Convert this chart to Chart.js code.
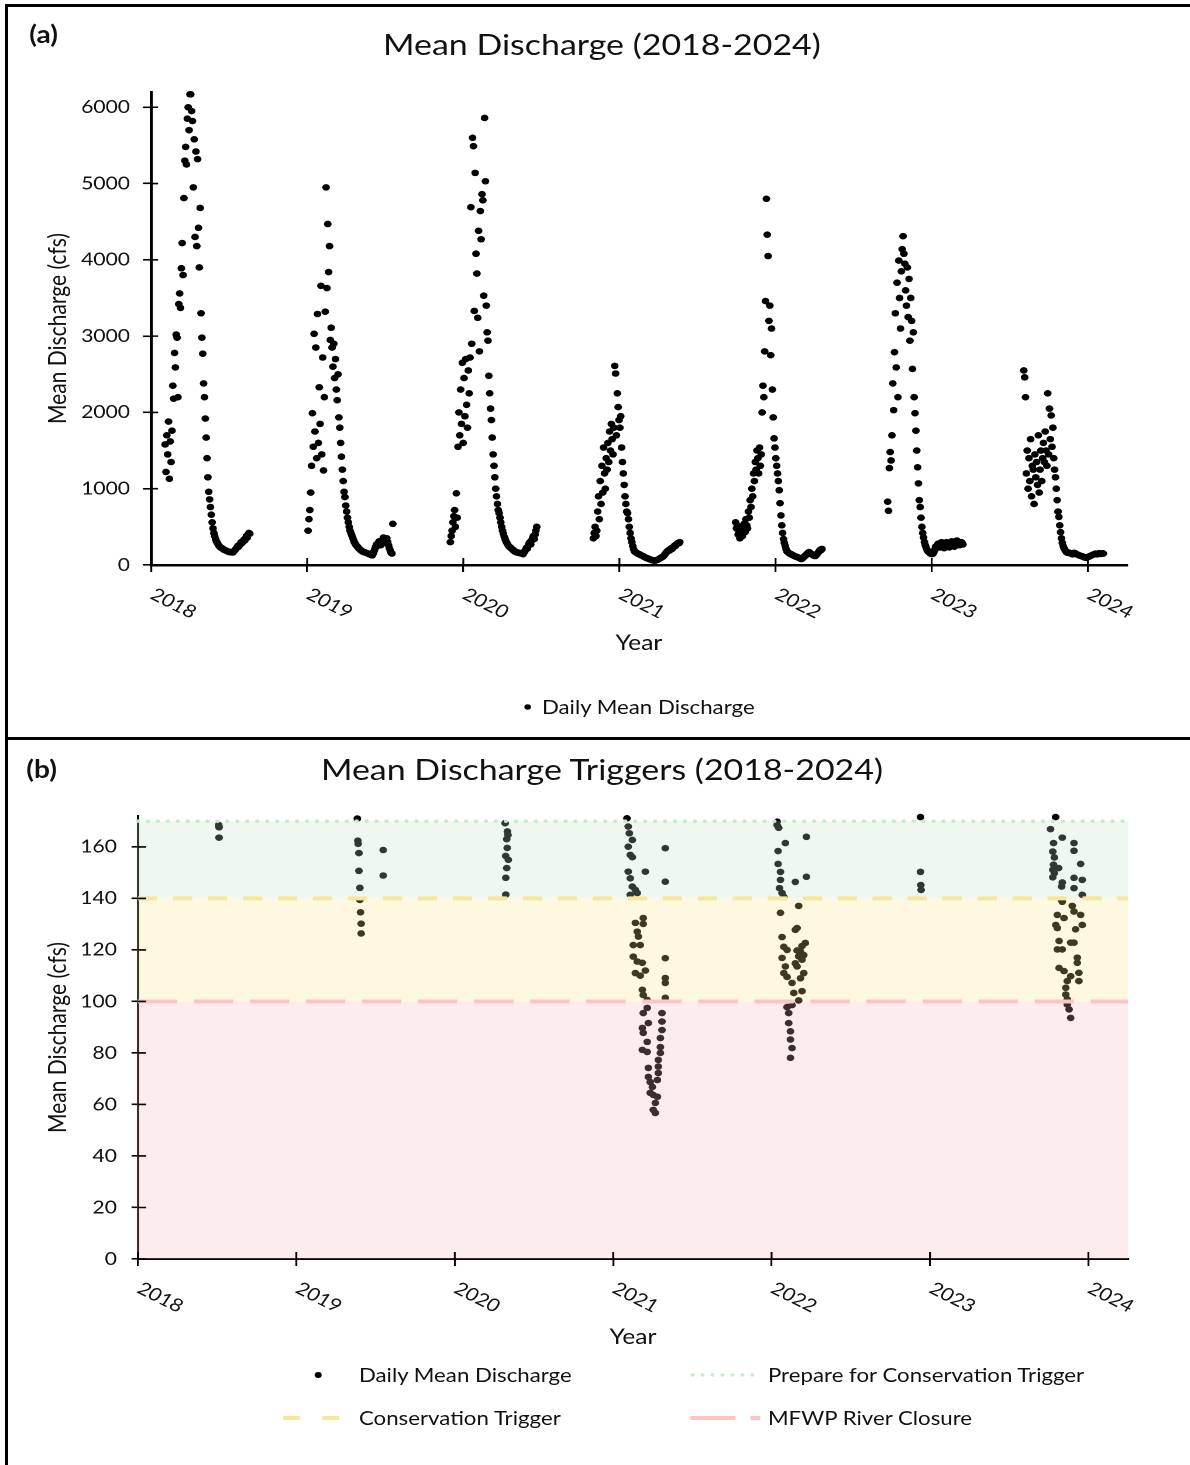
<!DOCTYPE html>
<html>
<head>
<meta charset="utf-8">
<title>Mean Discharge (2018-2024)</title>
<script src="https://cdn.jsdelivr.net/npm/chart.js@4.4.1/dist/chart.umd.min.js"></script>
<style>
  html, body { margin:0; padding:0; background:#fff; }
  #page { position:relative; width:1190px; height:1465px; overflow:hidden; background:#fff;
          font-family: Lato, 'Noto Sans', sans-serif; color:#111; }
  #stretch { position:absolute; left:0; top:0; width:1017px; height:1465px;
             transform:scaleX(1.17); transform-origin:0 0; }
  .rule { position:absolute; background:#000; }
  .ctitle { position:absolute; left:0; width:1029px; text-align:center; font-size:29px;
            line-height:36px; white-space:nowrap; }
  .plabel { position:absolute; font-weight:700; font-size:24px; line-height:28px; }
  canvas { position:absolute; left:0; }
  .legtext { position:absolute; font-size:19px; line-height:24px; white-space:nowrap; }
  .legsvg { position:absolute; overflow:visible; }
</style>
</head>
<body>
<div id="page">
  <div id="stretch">
    <div class="plabel" style="left:25px; top:20px;">(a)</div>
    <div class="ctitle" style="top:26px;">Mean Discharge (2018-2024)</div>
    <canvas id="chartA" width="1017" height="670" style="top:0px;"></canvas>
    <div class="plabel" style="left:22.5px; top:754.5px;">(b)</div>
    <div class="ctitle" style="top:751px;">Mean Discharge Triggers (2018-2024)</div>
    <canvas id="chartB" width="1017" height="610" style="top:740px;"></canvas>
    <div id="legends"></div>
  </div>
  <div class="rule" style="left:5px; top:4px; width:3px; height:1461px;"></div>
  <div class="rule" style="left:5px; top:4px; width:1185px; height:3px;"></div>
  <div class="rule" style="left:5px; top:737px; width:1185px; height:3px;"></div>
</div>
<script>
// ---------------- DATA ----------------
const yearTicks = [2018, 2019, 2020, 2021, 2022, 2023, 2024];
const dischargeTicks = [0, 1000, 2000, 3000, 4000, 5000, 6000];
const triggerTicks = [0, 20, 40, 60, 80, 100, 120, 140, 160];
const STEP_DAYS = 2;   // one reading every two days within each season
const seasonStart = [2018.090, 2019.006, 2019.917, 2020.833, 2021.744, 2022.718, 2023.590];

const q2018 = [1580,1220,1700,1450,1880,1130,1620,1350,1760,
  2350,2180,2780,2590,3020,2980,2200,
  3420,3560,3370,3890,4220,3800,
  4810,5300,5480,5250,5850,6000,5700,6170,6170,5950,
  5820,4950,5580,4300,5420,4180,5320,4420,3900,4680,3300,2980,2770,2380,2200,
  1920,1670,1400,
  1150,960,860,760,660,560,480,
  420,380,340,310,290,270,250,
  240,230,222,215,208,200,195,190,184,178,174,170,172,
  168,167,164,
  175,185,200,215,230,250,240,262,280,300,290,310,330,320,350,380,360,400,420,410];
const q2019 = [450,600,720,950,
  1300,1990,1550,3030,1750,2850,1400,3290,1600,2330,1850,3660,1450,2720,1240,2200,
  3320,4950,3630,4470,3840,4180,2950,3110,
  2850,2600,2900,2450,2700,2300,2160,2500,1935,
  1800,1600,1420,1250,1100,960,890,
  780,700,620,560,500,450,420,390,360,330,300,280,
  260,250,235,222,210,200,190,182,175,170,168,163,
  160,155,150,144,139,135,130,126,150,180,
  210,240,270,250,290,310,280,260,300,330,360,320,290,330,350,300,260,220,190,160,150,540];
const q2020 = [300,380,450,560,640,720,500,940,620,
  1550,2000,1700,2300,1850,2650,1600,2450,1950,2700,2100,1800,2550,2250,2720,
  4690,2900,5600,5490,3330,5140,4080,3820,3240,4380,2800,4640,4270,4860,4780,3530,5860,5030,3400,
  3050,2940,2480,2250,2050,1900,
  1670,1450,1300,1150,1000,900,800,720,680,
  620,560,500,450,410,370,340,310,290,270,250,240,230,220,210,
  200,190,180,172,169,165,164,160,157,155,152,148,
  142,160,180,200,225,215,250,280,300,270,320,350,380,340,400,450,500];
const q2021 = [350,420,500,380,450,
  700,900,600,1100,800,1300,950,1540,1200,1000,1400,1250,
  1600,1350,1750,1500,1850,1650,1450,1800,2610,2510,1700,
  2250,2070,1900,1800,1950,1540,
  1350,1200,1050,900,800,700,680,
  600,500,420,350,300,250,210,180,
  171,163,157,150,144,141,132,127,122,116,111,104,98,92,88,84,80,75,
  70,66,63,60,58,57,
  60,64,70,75,80,88,95,102,108,116,130,146,
  159,175,185,195,190,205,220,210,230,240,255,250,270,280,290,285,300];
const q2022 = [560,480,520,400,450,350,420,500,380,460,540,430,600,520,480,
  700,620,850,760,1000,900,1200,1100,1350,1250,1500,1400,1200,1540,
  1300,1450,2000,2350,2200,2800,
  3460,4800,4330,4050,3200,3400,2750,3100,
  2300,1935,1660,1540,1400,
  1300,1200,1100,980,810,
  650,520,420,340,290,250,210,180,
  170,160,152,146,141,135,128,122,117,112,108,104,99,94,88,82,78,85,96,108,118,128,140,150,162,
  170,160,150,140,130,125,120,118,125,140,155,170,185,200,195,210];
const q2023 = [830,710,1270,1480,1370,1700,
  2380,2030,2790,3300,2590,3700,2200,3990,3500,3100,3850,
  4140,4310,4080,3950,3600,3400,
  3900,3250,3750,2940,3500,3200,2570,3050,2200,1990,
  1760,1500,1280,1070,850,760,620,
  500,420,360,300,260,230,200,180,
  171,160,150,145,143,150,170,200,240,220,260,280,250,230,270,300,260,240,220,250,
  280,300,270,250,230,260,290,310,280,260,240,270,300,320,290,270,260,280,300,290,270];
const q2024 = [2550,2460,2200,
  1200,1500,1000,1400,1100,1650,900,1300,1250,800,1450,1150,1350,1050,1700,950,1250,1500,1100,1400,
  1600,1350,1750,1500,1300,2250,1450,2050,1650,1960,1550,1800,1400,1250,1150,
  1000,850,700,630,520,430,350,
  290,250,220,200,180,170,160,
  165,160,155,150,145,140,150,160,155,148,140,135,130,125,120,118,115,110,105,100,
  98,95,100,105,110,115,120,125,130,135,140,145,150,145,140,148,155,150,145,150,155,150];
const seasonValues = [q2018, q2019, q2020, q2021, q2022, q2023, q2024];

// low-flow readings shown in panel (b): [decimal year, cfs]
const low2018 = [[2018.510,168.5],[2018.512,167.6],[2018.512,163.6]];
const low2019 = [[2019.385,171.0],[2019.388,162.4],[2019.390,161.2],[2019.395,157.6],[2019.395,150.7],
  [2019.401,144.1],[2019.401,139.4],[2019.405,134.6],[2019.409,130.2],[2019.409,126.4],
  [2019.548,158.8],[2019.548,148.9]];
const low2020 = [[2020.318,169.2],[2020.332,166.0],[2020.336,164.6],[2020.328,163.0],[2020.331,159.6],
  [2020.321,156.5],[2020.338,155.0],[2020.328,151.8],[2020.322,148.0],[2020.322,141.5]];
const low2021 = [[2021.087,171.1],[2021.095,167.9],[2021.102,165.3],[2021.121,162.7],[2021.095,160.1],
  [2021.108,156.9],[2021.121,156.0],[2021.095,150.4],[2021.108,147.8],[2021.121,144.6],
  [2021.140,143.3],[2021.108,141.4],[2021.152,142.1],[2021.203,150.4],[2021.329,159.5],
  [2021.329,146.5],[2021.190,132.4],[2021.140,130.5],[2021.190,130.1],[2021.152,127.1],
  [2021.159,125.2],[2021.127,121.9],[2021.171,121.9],[2021.127,117.4],[2021.152,115.5],
  [2021.184,115.0],[2021.140,111.0],[2021.171,110.0],[2021.203,112.0],[2021.329,116.8],
  [2021.329,109.1],[2021.329,107.2],[2021.329,101.4],[2021.184,104.5],[2021.190,102.5],
  [2021.215,100.6],[2021.215,97.5],[2021.190,95.5],[2021.222,91.6],[2021.184,89.7],
  [2021.190,87.8],[2021.215,84.3],[2021.184,81.2],[2021.215,80.4],[2021.308,95.5],
  [2021.308,92.2],[2021.308,88.9],[2021.298,85.8],[2021.298,82.3],[2021.298,80.0],
  [2021.285,77.3],[2021.285,74.7],[2021.285,72.2],[2021.279,69.5],[2021.222,74.2],
  [2021.222,70.7],[2021.234,68.7],[2021.247,66.8],[2021.253,63.7],[2021.266,60.6],
  [2021.253,57.9],[2021.266,56.7],[2021.234,64.5],[2021.279,63.0]];
const low2022 = [[2022.035,169.8],[2022.035,168.5],[2022.045,167.4],[2022.087,161.5],[2022.220,163.9],
  [2022.220,148.4],[2022.041,158.4],[2022.041,153.4],[2022.056,150.3],[2022.056,147.2],
  [2022.150,146.4],[2022.050,144.0],[2022.066,142.1],[2022.077,140.6],[2022.171,137.1],
  [2022.056,134.4],[2022.161,128.5],[2022.150,127.8],[2022.066,125.0],[2022.077,121.2],
  [2022.213,122.7],[2022.182,119.4],[2022.171,117.5],[2022.192,116.2],[2022.161,113.6],
  [2022.203,111.0],[2022.182,109.0],[2022.066,116.9],[2022.087,113.6],[2022.077,111.0],
  [2022.098,109.5],[2022.129,107.2],[2022.140,103.3],[2022.171,100.4],[2022.129,98.6],
  [2022.098,97.8],[2022.108,95.5],[2022.108,91.6],[2022.119,88.4],[2022.119,85.2],
  [2022.129,81.9],[2022.119,78.1],[2022.192,121.5],[2022.203,118.0],[2022.161,119.8],
  [2022.150,114.8],[2022.192,104.0],[2022.098,120.0]];
const low2023 = [[2022.940,171.6],[2022.940,150.3],[2022.942,145.2],[2022.944,143.3]];
const low2024 = [[2023.793,171.6],[2023.761,166.9],[2023.835,163.6],[2023.780,161.5],[2023.909,161.5],
  [2023.909,158.5],[2023.775,158.2],[2023.785,155.9],[2023.951,153.4],[2023.780,153.1],
  [2023.812,151.8],[2023.775,151.1],[2023.785,149.8],[2023.775,148.2],[2023.835,146.2],
  [2023.831,144.6],[2023.909,148.0],[2023.961,147.2],[2023.909,144.0],[2023.961,141.4],
  [2023.831,139.4],[2023.835,138.7],[2023.898,137.1],[2023.909,134.9],[2023.951,133.6],
  [2023.961,129.7],[2023.919,128.0],[2023.804,133.6],[2023.846,132.4],[2023.794,129.7],
  [2023.804,128.5],[2023.888,122.8],[2023.909,122.8],[2023.815,123.5],[2023.804,120.2],
  [2023.835,120.2],[2023.930,117.0],[2023.930,115.0],[2023.940,111.1],[2023.940,107.9],
  [2023.815,113.0],[2023.846,111.8],[2023.888,109.8],[2023.867,107.9],[2023.857,105.3],
  [2023.857,102.7],[2023.867,100.8],[2023.867,98.8],[2023.878,96.9],[2023.888,93.6]];
const lowSeasons = [low2018, low2019, low2020, low2021, low2022, low2023, low2024];

const thresholdValues = [170, 140, 100];
const thresholdNames = ['Prepare for Conservation Trigger', 'Conservation Trigger', 'MFWP River Closure'];
const seriesName = 'Daily Mean Discharge';

// ---------------- STYLES ----------------
const X_MIN = 2018, X_MAX = 2024.25;
const thresholdStyles = [
  { color: '#c4ecca', dash: [0, 8.5], cap: 'round', width: 3.6, band: 'rgba(187,227,187,0.25)' },
  { color: '#f7e79c', dash: [16.5, 13.4], cap: 'butt', width: 4, band: 'rgba(255,227,135,0.25)' },
  { color: '#ffc3c7', dash: [33.6, 14.3], cap: 'butt', width: 4, band: 'rgba(247,179,187,0.25)' }
];
Chart.defaults.font.family = "Lato, 'Noto Sans', sans-serif";
Chart.defaults.color = '#111';

// ---------------- PLUGINS ----------------
const crossTicks = {
  id: 'crossTicks',
  afterDraw(chart, args, o) {
    const { ctx, chartArea: a, scales: { x, y } } = chart;
    ctx.save();
    ctx.strokeStyle = '#000';
    ctx.lineWidth = o.width;
    ctx.beginPath();
    y.ticks.forEach(t => { const p = y.getPixelForValue(t.value); ctx.moveTo(a.left, p); ctx.lineTo(a.left + o.yIn, p); });
    x.ticks.forEach(t => { const p = x.getPixelForValue(t.value); ctx.moveTo(p, a.bottom); ctx.lineTo(p, a.bottom - o.xIn); });
    ctx.stroke();
    ctx.restore();
  }
};
const slantedYears = {
  id: 'slantedYears',
  afterDraw(chart, args, o) {
    const { ctx, chartArea: a, scales: { x } } = chart;
    ctx.save();
    ctx.font = o.font;
    ctx.fillStyle = o.color;
    ctx.textAlign = 'left';
    ctx.textBaseline = 'middle';
    x.ticks.forEach(t => {
      const p = x.getPixelForValue(t.value);
      ctx.save();
      ctx.translate(p + o.dx, a.bottom + o.dy);
      ctx.rotate(o.angle * Math.PI / 180);
      ctx.fillText(String(t.value), 0, 0);
      ctx.restore();
    });
    ctx.restore();
  }
};
const triggerBands = {
  id: 'triggerBands',
  afterDatasetDraw(chart, args, o) {
    if (args.index !== 0) return;
    const { ctx, chartArea: a, scales: { y } } = chart;
    ctx.save();
    o.bands.forEach(b => {
      const t = y.getPixelForValue(b.from), btm = y.getPixelForValue(b.to);
      ctx.fillStyle = b.color;
      ctx.fillRect(a.left - 1, t, a.right - a.left + 1, btm - t);
    });
    ctx.restore();
  }
};

function axisCommon(tickLen, borderW) {
  return {
    grid: { drawOnChartArea: false, drawTicks: true, tickLength: tickLen, color: '#000', tickColor: '#000', tickWidth: 1.6, lineWidth: 1.6 },
    border: { display: true, color: '#000', width: borderW }
  };
}
const fixTicks = list => scale => { scale.ticks = list.map(v => ({ value: v })); };

// ---------------- CHART A ----------------
const pointsA = [];
seasonValues.forEach((vals, s) => vals.forEach((v, i) => pointsA.push({ x: seasonStart[s] + i * STEP_DAYS / 365, y: v })));

new Chart(document.getElementById('chartA'), {
  type: 'scatter',
  data: { datasets: [{ label: seriesName, data: pointsA, pointRadius: 3.3, pointHoverRadius: 3.3,
    backgroundColor: '#000', borderColor: '#000', borderWidth: 0, pointBorderWidth: 0, clip: false }] },
  options: {
    responsive: false, animation: false, events: [], devicePixelRatio: 2,
    layout: { padding: { top: 92, right: 53.9, bottom: 0, left: 0 } },
    plugins: { legend: { display: false }, tooltip: { enabled: false }, title: { display: false },
      crossTicks: { width: 1.6, yIn: 6, xIn: 7 },
      slantedYears: { font: "18px Lato, 'Noto Sans', sans-serif", color: '#111', dx: 1, dy: 28, angle: 30 } },
    scales: {
      x: Object.assign(axisCommon(7, 2.5), { type: 'linear', min: X_MIN, max: X_MAX,
        afterFit: s => { s.height = 105; },
        afterBuildTicks: fixTicks(yearTicks),
        ticks: { display: false },
        title: { display: true, text: 'Year', font: { size: 21 }, color: '#111', padding: { top: 0, bottom: 14.4 } } }),
      y: Object.assign(axisCommon(7, 2.5), { min: 0, max: 6200,
        afterFit: s => { s.width = 129.1; },
        afterBuildTicks: fixTicks(dischargeTicks),
        ticks: { padding: 11, font: { size: 18 }, color: '#111', callback: v => String(v) },
        title: { display: true, text: 'Mean Discharge (cfs)', font: { size: 21 }, color: '#111', padding: { top: 37, bottom: 0 } } })
    }
  },
  plugins: [crossTicks, slantedYears]
});

// ---------------- CHART B ----------------
const pointsB = [];
lowSeasons.forEach(arr => arr.forEach(([d, v]) => pointsB.push({ x: d, y: v })));
const bandBounds = thresholdValues.concat([0]);
const bands = thresholdValues.map((v, i) => ({ from: v, to: bandBounds[i + 1], color: thresholdStyles[i].band }));

const datasetsB = [{ label: seriesName, data: pointsB, pointRadius: 3.3, pointHoverRadius: 3.3,
  backgroundColor: '#000', borderColor: '#000', borderWidth: 0, pointBorderWidth: 0, clip: false, order: 10 }];
thresholdValues.forEach((v, i) => {
  const st = thresholdStyles[i];
  datasetsB.push({ label: thresholdNames[i], data: [{ x: X_MIN, y: v }, { x: X_MAX, y: v }],
    showLine: true, pointRadius: 0, borderColor: st.color, borderWidth: st.width, borderDash: st.dash,
    borderCapStyle: st.cap, order: 1, clip: false });
});

new Chart(document.getElementById('chartB'), {
  type: 'scatter',
  data: { datasets: datasetsB },
  options: {
    responsive: false, animation: false, events: [], devicePixelRatio: 2,
    layout: { padding: { top: 76, right: 52.9, bottom: 0, left: 0 } },
    plugins: { legend: { display: false }, tooltip: { enabled: false }, title: { display: false },
      crossTicks: { width: 1.6, yIn: 7, xIn: 7 },
      slantedYears: { font: "18px Lato, 'Noto Sans', sans-serif", color: '#111', dx: 1, dy: 28, angle: 30 },
      triggerBands: { bands: bands } },
    scales: {
      x: Object.assign(axisCommon(7, 2), { type: 'linear', min: X_MIN, max: X_MAX,
        afterFit: s => { s.height = 91; },
        afterBuildTicks: fixTicks(yearTicks),
        ticks: { display: false },
        title: { display: true, text: 'Year', font: { size: 21 }, color: '#111', padding: { top: 0, bottom: 0 } } }),
      y: Object.assign(axisCommon(5.5, 2), { min: 0, max: 172,
        afterFit: s => { s.width = 117.9; },
        afterBuildTicks: fixTicks(triggerTicks),
        ticks: { padding: 12.5, font: { size: 18 }, color: '#111', callback: v => String(v) },
        title: { display: true, text: 'Mean Discharge (cfs)', font: { size: 21 }, color: '#111', padding: { top: 37, bottom: 0 } } })
    }
  },
  plugins: [crossTicks, slantedYears, triggerBands]
});

// ---------------- HTML LEGENDS ----------------
const legendHost = document.getElementById('legends');
function legendItem(it) {
  const NS = 'http://www.w3.org/2000/svg';
  const svg = document.createElementNS(NS, 'svg');
  svg.setAttribute('class', 'legsvg');
  if (it.kind === 'dot') {
    svg.setAttribute('width', 10); svg.setAttribute('height', 10);
    svg.style.left = (it.x - 5) + 'px'; svg.style.top = (it.y - 5) + 'px';
    const c = document.createElementNS(NS, 'circle');
    c.setAttribute('cx', 5); c.setAttribute('cy', 5); c.setAttribute('r', it.r); c.setAttribute('fill', '#000');
    svg.appendChild(c);
  } else {
    const w = it.x2 - it.x;
    svg.setAttribute('width', w); svg.setAttribute('height', 8);
    svg.style.left = it.x + 'px'; svg.style.top = (it.y - 4) + 'px';
    const l = document.createElementNS(NS, 'line');
    l.setAttribute('x1', it.cap === 'round' ? 2 : 0); l.setAttribute('x2', w); l.setAttribute('y1', 4); l.setAttribute('y2', 4);
    l.setAttribute('stroke', it.style.color); l.setAttribute('stroke-width', it.style.width);
    l.setAttribute('stroke-dasharray', it.dash.join(' ')); l.setAttribute('stroke-linecap', it.cap);
    svg.appendChild(l);
  }
  legendHost.appendChild(svg);
  const sp = document.createElement('div');
  sp.className = 'legtext';
  sp.textContent = it.label;
  sp.style.left = it.tx + 'px';
  sp.style.top = (it.y - 12) + 'px';
  legendHost.appendChild(sp);
}
legendItem({ kind: 'dot', r: 2.8, x: 451.3, y: 707, tx: 463.2, label: seriesName });
legendItem({ kind: 'dot', r: 3, x: 271.8, y: 1375, tx: 306.8, label: seriesName });
legendItem({ kind: 'line', x: 589.7, x2: 647, y: 1375, tx: 656.4, label: thresholdNames[0], style: thresholdStyles[0], dash: [0, 8.5], cap: 'round' });
legendItem({ kind: 'line', x: 241.9, x2: 290.6, y: 1418, tx: 306.8, label: thresholdNames[1], style: thresholdStyles[1], dash: [14.5, 19], cap: 'butt' });
legendItem({ kind: 'line', x: 589.7, x2: 649.6, y: 1418, tx: 656.4, label: thresholdNames[2], style: thresholdStyles[2], dash: [38.5, 12.8], cap: 'butt' });
</script>
</body>
</html>
